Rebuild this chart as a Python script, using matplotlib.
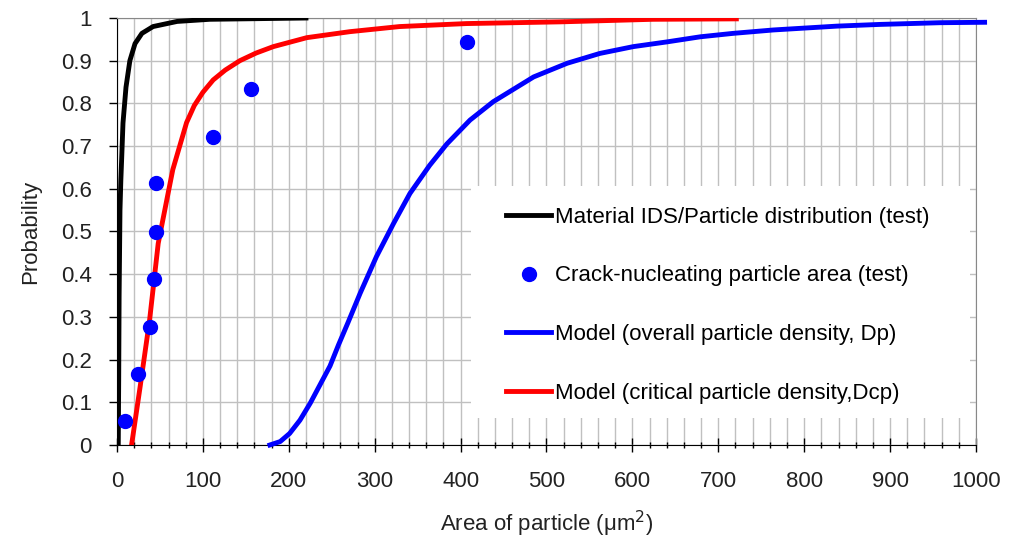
import numpy as np
import matplotlib
matplotlib.use("Agg")
import matplotlib.pyplot as plt
from matplotlib.patches import Rectangle
from matplotlib.ticker import MultipleLocator

plt.rcParams['font.family'] = ['Liberation Sans', 'DejaVu Sans']

# material IDS / particle distribution (test)
black_x = [1.5, 2, 2.5, 3.5, 4.5, 5.4, 7, 10.5, 15, 21, 29, 42, 70, 108, 220]
black_y = [0.0, 0.15, 0.35, 0.55, 0.62, 0.667, 0.754, 0.838, 0.90, 0.94, 0.964, 0.98, 0.992, 0.997, 1.0]

# crack-nucleating particle area (test)
pts_x = [9.3, 24.8, 39, 43, 45, 46, 112, 155.5, 407]
pts_y = [0.056, 0.166, 0.277, 0.388, 0.498, 0.613, 0.722, 0.833, 0.944]

# model, overall particle density Dp
blue_x = [178, 190, 201, 213, 225, 248, 258, 269, 283, 302, 322, 341, 364, 384, 411, 438,
          485, 524, 562, 601, 640, 679, 717, 764, 838, 888, 958, 1010]
blue_y = [0.0, 0.008, 0.027, 0.058, 0.098, 0.185, 0.235, 0.287, 0.355, 0.441, 0.519, 0.589,
          0.655, 0.705, 0.761, 0.804, 0.862, 0.894, 0.917, 0.933, 0.944, 0.956, 0.964, 0.972,
          0.981, 0.985, 0.989, 0.99]

# model, critical particle density Dcp
red_x = [17, 27, 38, 48, 58, 65, 73, 81, 90, 100, 112, 126, 143, 162, 182, 221, 271,
         329, 407, 516, 624, 721]
red_y = [0.0, 0.137, 0.293, 0.472, 0.574, 0.645, 0.70, 0.755, 0.795, 0.826, 0.855, 0.878,
         0.90, 0.918, 0.933, 0.954, 0.968, 0.98, 0.987, 0.991, 0.997, 0.998]

fig = plt.figure(figsize=(10.11, 5.41), dpi=100)
ax = fig.add_axes([0.1157, 0.1775, 0.8497, 0.7892])

ax.set_xlim(0, 1000)
ax.set_ylim(0, 1)
ax.xaxis.set_major_locator(MultipleLocator(100))
ax.xaxis.set_minor_locator(MultipleLocator(20))
ax.set_yticks(np.arange(0, 1.01, 0.1))
ax.set_yticklabels(['0', '0.1', '0.2', '0.3', '0.4', '0.5', '0.6', '0.7', '0.8', '0.9', '1'])

ax.set_axisbelow(True)
ax.grid(True, which='minor', axis='x', color='#c0c0c0', lw=1.0)
ax.grid(True, which='major', axis='both', color='#c0c0c0', lw=1.0)

ax.tick_params(axis='x', which='major', direction='inout', length=10, width=1, pad=14, labelsize=16)
ax.tick_params(axis='x', which='minor', direction='inout', length=5, width=1)
ax.tick_params(axis='y', which='major', direction='out', length=6, width=1, pad=12, labelsize=16)
for t in ax.get_xticklabels() + ax.get_yticklabels():
    t.set_color('#222222')

ax.spines['left'].set_color('black')
ax.spines['bottom'].set_color('black')
ax.spines['top'].set_color('#888888')
ax.spines['right'].set_color('#888888')

# white patch behind the legend covering the grid
ax.add_patch(Rectangle((0.412, 0.063), 0.581, 0.544, transform=ax.transAxes,
                       facecolor='white', edgecolor='none', zorder=1))

ax.plot(black_x, black_y, color='black', lw=3.5, zorder=3,
        label='Material IDS/Particle distribution (test)')
ax.plot(pts_x, pts_y, 'o', color='blue', ms=10, ls='none', zorder=4,
        label='Crack-nucleating particle area (test)')
ax.plot(blue_x, blue_y, color='blue', lw=3.5, zorder=3, clip_on=False,
        label='Model (overall particle density, Dp)')
ax.plot(red_x, red_y, color='red', lw=3.5, zorder=3,
        label='Model (critical particle density,Dcp)')

leg = ax.legend(loc='center left', bbox_to_anchor=(0.43, 0.327), frameon=False,
                fontsize=16, labelspacing=1.7, handlelength=2.0, handletextpad=0.2)

ax.set_xlabel('Area of particle (\u03bcm$^2$)', fontsize=16, labelpad=12, color='#222222')
ax.set_ylabel('Probability', fontsize=16, labelpad=14, color='#222222')

fig.savefig('out.png', dpi=100)
